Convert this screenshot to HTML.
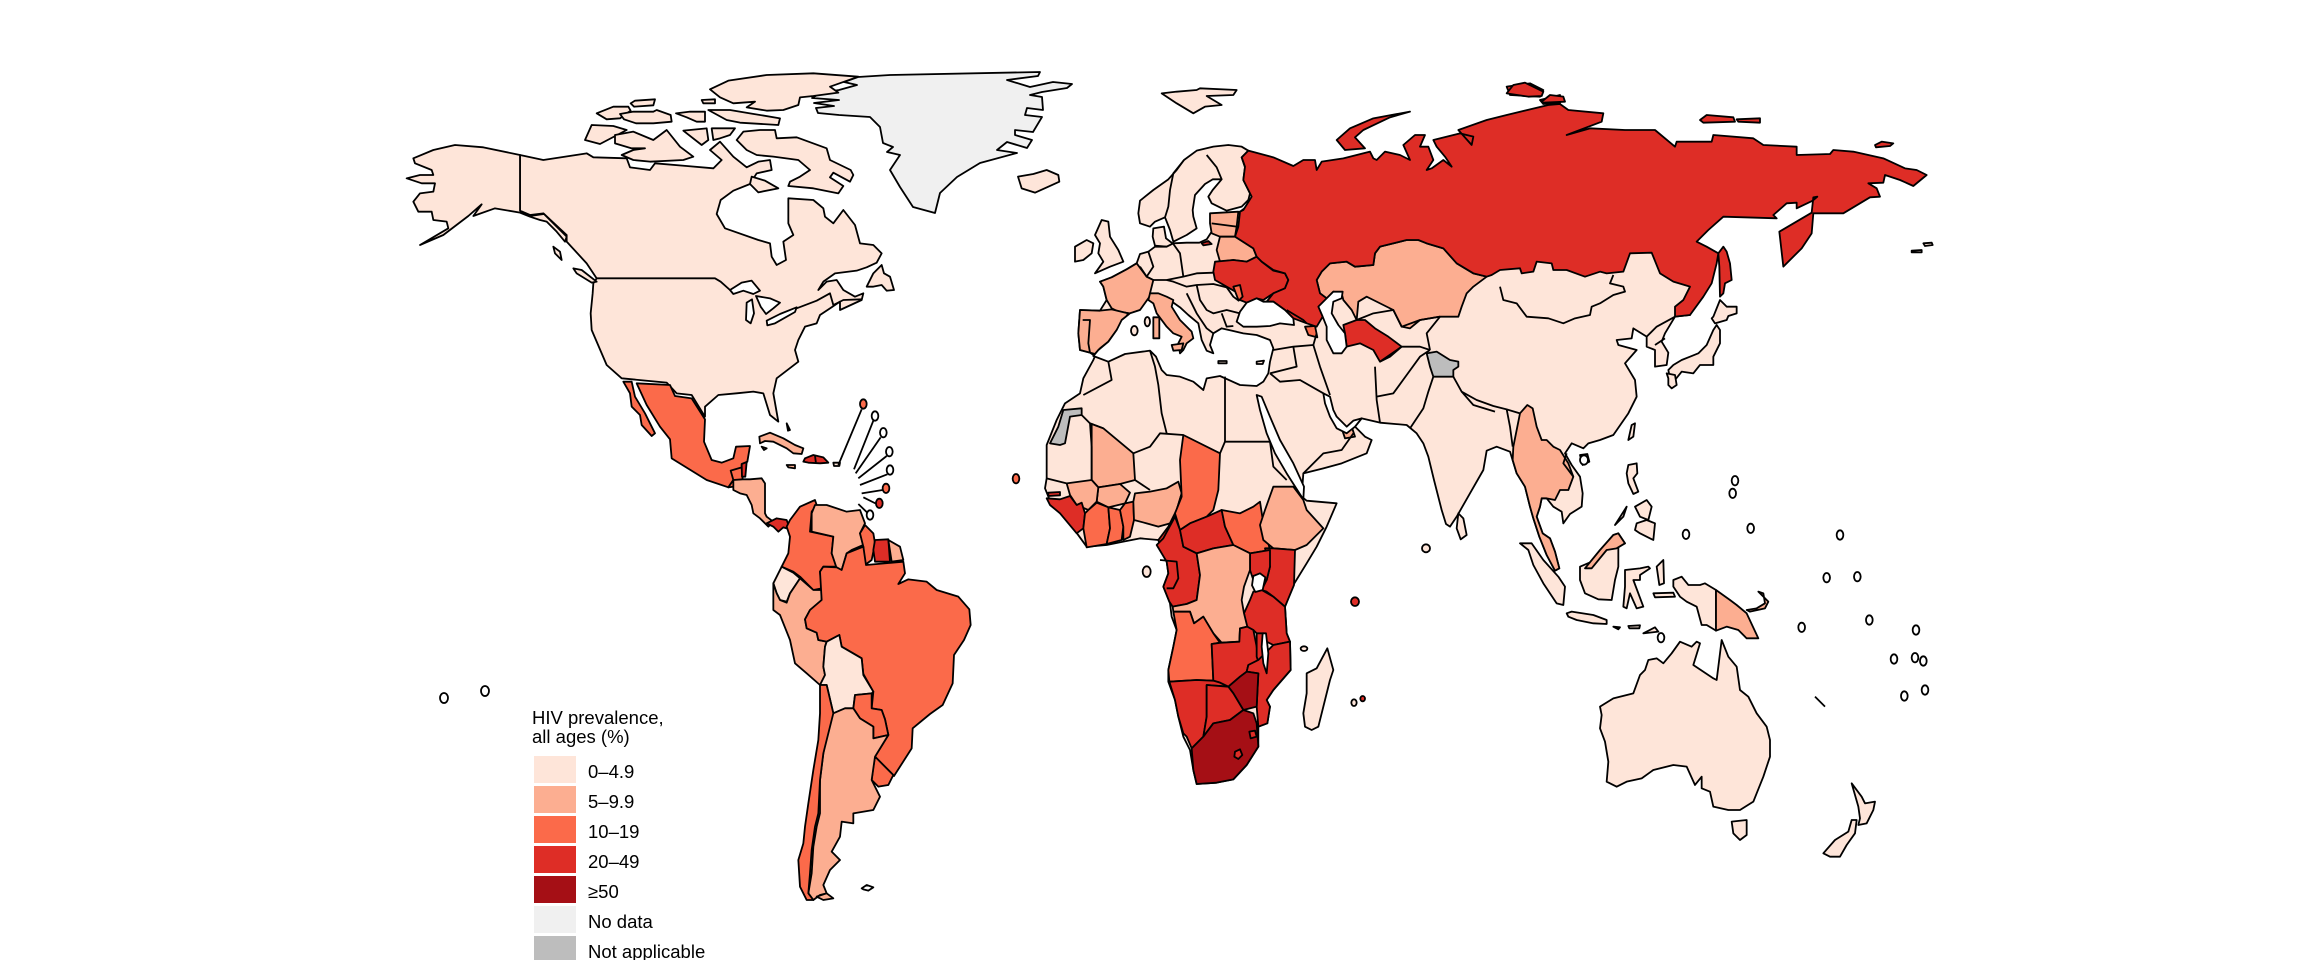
<!DOCTYPE html>
<html><head><meta charset="utf-8"><style>
html,body{margin:0;padding:0;background:#fff;}
svg{display:block}
polygon,polyline,ellipse{vector-effect:non-scaling-stroke;}
.a{fill:#fee5d9}.b{fill:#fcae91}.c{fill:#fb6a4a}.d{fill:#de2d26}.e{fill:#a50f15}.n{fill:#f0f0f0}.g{fill:#bdbdbd}.w{fill:#fff}
polyline{fill:none}
text{font-family:"Liberation Sans",Arial,sans-serif;fill:#000}
</style></head><body>
<svg width="2304" height="960" viewBox="0 0 2304 960" xmlns="http://www.w3.org/2000/svg">
<rect width="2304" height="960" fill="#fff"/>
<g stroke="#000" stroke-width="1.8" stroke-linejoin="round">

<!-- Greenland -->
<polygon class="n" points="890,75 1040,72 1038,76 1007,80 1030,87 1053,82 1072,84 1067,88 1042,92 1030,95 1042,97 1043,110 1027,108 1025,115 1042,117 1033,132 1015,130 1015,135 1032,140 1027,148 1007,142 997,150 1017,153 980,163 957,177 940,193 935,213 913,207 900,187 890,170 900,155 887,152 893,147 883,143 880,127 870,117 839,115 818,113 816,108 834,106 814,103 839,100 812,98 821,93 839,90 857,85 844,82 858,77"/>

<!-- North America -->
<g transform="translate(400,60) scale(0.333333)">
<polygon class="a" points="360,285 430,300 560,280 580,292 680,295 690,322 750,330 765,310 860,318 940,325 965,300 930,270 960,245 1000,290 1040,322 1075,305 1110,300 1115,330 1070,340 1050,372 1000,392 962,420 950,462 975,505 1075,540 1110,550 1115,590 1130,615 1158,600 1150,545 1180,525 1165,490 1165,415 1240,420 1270,445 1275,470 1300,490 1330,450 1365,495 1380,550 1420,555 1445,580 1430,608 1400,622 1370,632 1305,640 1270,665 1255,690 1280,665 1310,660 1330,690 1365,710 1390,700 1385,720 1320,750 1320,725 1290,745 1260,765 1250,790 1215,800 1195,840 1185,870 1195,905 1130,955 1120,1000 1135,1085 1110,1065 1090,1000 1060,995 1010,1000 955,1005 915,1040 915,1070 875,1005 830,1000 800,968 665,955 620,915 575,810 572,760 578,700 580,670 590,655 560,610 500,545 500,525 430,460 390,465 360,452"/>
<polygon class="a" points="40,295 100,270 165,255 250,262 360,285 360,452 390,468 432,462 500,530 495,545 470,515 440,485 420,480 390,470 360,458 285,445 220,468 245,433 205,468 130,525 60,555 145,505 140,485 100,480 95,455 55,455 40,425 60,400 100,395 105,370 65,370 20,355 60,345 100,345 95,330 45,310"/>
<polygon class="a" points="1400,680 1420,640 1445,615 1452,640 1470,650 1482,690 1460,692 1445,675 1420,680"/>
<polygon class="a" points="520,625 545,630 590,665 575,668 530,640"/>
<polygon class="a" points="460,560 480,575 485,600 465,580"/>
<polygon class="w" points="990,690 1025,668 1055,662 1080,692 1060,702 1030,692 1000,702"/>
<polygon class="w" points="1040,728 1056,718 1062,760 1052,790 1038,780"/>
<polygon class="w" points="1068,708 1110,715 1140,728 1120,745 1098,762 1082,740"/>
<polygon class="w" points="1100,782 1140,762 1190,742 1185,756 1125,790 1102,796"/>
<polyline points="590,655 945,655 962,665 990,690"/>
<polyline points="1190,745 1250,722 1290,700 1300,735 1330,720 1385,718"/>
<polygon class="a" points="590,160 640,140 685,140 692,152 660,175 620,178"/>
<polygon class="a" points="692,130 705,122 765,118 760,136 702,140"/>
<polygon class="a" points="660,162 700,155 760,155 770,150 812,165 815,185 760,190 708,190 672,178"/>
<polygon class="a" points="828,160 870,155 915,155 915,185 890,185 860,172"/>
<polygon class="a" points="555,240 575,195 640,198 680,210 600,252"/>
<polygon class="a" points="645,225 700,215 760,240 800,210 840,260 880,290 850,300 750,305 700,300 665,285 700,270 735,265 695,265 645,250"/>
<polygon class="a" points="850,212 920,205 925,240 905,255"/>
<polygon class="a" points="935,205 1005,205 990,225 960,235 940,240"/>
<polygon class="a" points="1010,240 1030,215 1080,210 1125,210 1130,235 1190,232 1280,265 1290,300 1352,330 1360,345 1350,365 1300,338 1290,352 1330,378 1315,400 1240,385 1165,378 1170,365 1200,350 1230,330 1195,300 1120,290 1070,285 1040,270"/>
<polygon class="a" points="1055,350 1095,362 1135,385 1075,397 1050,372"/>
<polygon class="a" points="930,88 985,62 1100,45 1240,40 1375,50 1290,80 1315,98 1240,108 1200,112 1195,135 1150,150 1100,152 1040,142 1065,125 1000,130 960,112"/>
<polygon class="a" points="925,150 990,150 1050,160 1140,175 1135,195 1020,188 980,180"/>
<polygon class="a" points="905,120 945,118 945,130 910,130"/>
</g>

<ellipse class="w" cx="444" cy="698" rx="4" ry="5"/>
<ellipse class="w" cx="485" cy="691" rx="4" ry="5"/>

<!-- Central & South America -->
<g transform="translate(560,380) scale(0.333333)">
<polygon class="c" points="230,10 330,15 345,48 395,55 435,118 432,185 455,240 485,248 520,235 528,200 570,198 562,245 545,255 550,290 520,300 505,322 440,300 335,235 330,178 300,140 260,75"/>
<polygon class="c" points="190,5 215,5 225,50 255,100 285,160 275,168 245,135 240,105 215,80 210,40"/>
<polygon class="c" points="505,322 520,300 512,272 545,262 548,300 535,318"/>
<polygon class="d" points="545,252 560,246 556,290 546,290"/>
<polygon class="b" points="520,300 548,298 570,298 605,295 615,310 615,400 620,410 640,425 625,440 600,415 580,400 575,375 560,345 540,340 520,330"/>
<polygon class="d" points="620,430 650,415 680,420 690,448 670,442 655,455 640,440"/>
<polygon class="b" points="598,170 630,158 670,175 705,195 730,205 725,222 700,220 680,205 640,185 615,183 600,190"/>
<polygon class="d" points="735,235 760,225 790,232 805,248 780,250 745,248 730,245"/>
<polyline points="765,228 768,250"/>
<polygon class="b" points="680,255 705,255 705,265 685,262"/>
<polygon class="a" points="820,248 840,248 838,258 822,258"/>
<polygon class="a" points="605,200 620,205 612,210"/>
<polygon class="a" points="680,130 690,150 684,152"/>
<polyline points="835,255 905,88"/><polyline points="882,268 940,122"/><polyline points="887,280 962,172"/><polyline points="895,295 980,228"/><polyline points="900,315 982,283"/><polyline points="905,340 968,330"/><polyline points="910,352 950,372"/><polyline points="895,372 922,398"/>
<ellipse class="c" cx="910" cy="72" rx="10" ry="14"/>
<ellipse class="w" cx="945" cy="108" rx="10" ry="14"/>
<ellipse class="w" cx="970" cy="158" rx="10" ry="14"/>
<ellipse class="w" cx="988" cy="215" rx="10" ry="14"/>
<ellipse class="w" cx="990" cy="270" rx="10" ry="14"/>
<ellipse class="c" cx="978" cy="325" rx="10" ry="14"/>
<ellipse class="d" cx="958" cy="370" rx="10" ry="14"/>
<ellipse class="w" cx="930" cy="405" rx="10" ry="14"/>
<ellipse class="c" cx="1368" cy="296" rx="10" ry="14"/>
<polygon class="c" points="885,395 900,392 902,402 888,404"/>
<polygon class="c" points="680,440 690,420 720,380 765,360 770,375 755,395 750,455 820,470 815,520 830,560 790,560 780,575 785,625 760,630 720,590 700,575 665,560 685,520 690,470"/>
<polygon class="b" points="765,375 800,375 860,395 900,390 915,430 900,460 910,495 875,510 860,520 845,570 830,565 815,520 820,470 755,455 755,400"/>
<polygon class="c" points="900,460 915,435 940,460 945,490 935,540 915,555 910,500"/>
<polygon class="d" points="945,480 985,478 990,545 945,545 940,510"/>
<polygon class="b" points="985,480 1020,500 1030,540 995,545"/>
<polygon class="a" points="665,560 700,578 720,595 690,640 680,665 660,660 650,640 640,610"/>
<polygon class="b" points="640,610 650,640 660,660 680,668 690,640 720,595 760,630 785,630 785,660 750,690 735,718 740,745 770,758 775,780 800,785 795,800 790,860 795,885 780,915 740,880 705,850 690,780 660,705 640,690"/>
<polygon class="c" points="750,690 785,660 780,575 790,560 830,562 845,570 860,520 910,500 918,555 1030,545 1035,580 1015,612 1045,598 1100,605 1130,630 1195,650 1228,688 1232,735 1212,780 1182,825 1178,910 1148,975 1110,1002 1058,1045 1055,1105 1020,1160 1002,1188 945,1130 985,1065 975,1018 965,990 935,985 940,935 910,882 905,835 845,800 838,765 800,785 775,780 770,758 740,745 735,718"/>
<polygon class="c" points="945,1130 1000,1185 985,1215 955,1220 935,1200 940,1160"/>
<polygon class="a" points="800,785 838,765 845,800 905,835 910,885 940,935 935,940 885,945 880,985 855,985 820,1000 800,915 780,915 795,885 790,860 795,800"/>
<polygon class="c" points="880,985 885,945 935,940 935,985 965,990 975,1018 985,1065 940,1075 940,1040 900,1015"/>
<polygon class="b" points="820,1000 855,985 880,985 900,1015 940,1040 940,1075 985,1065 945,1130 935,1200 960,1250 940,1290 880,1300 880,1330 845,1325 840,1370 815,1415 840,1440 810,1470 790,1515 800,1540 780,1545 760,1560 745,1540 755,1480 760,1400 770,1340 780,1300 780,1200 790,1120 800,1070 810,1010"/>
<polygon class="c" points="780,915 800,915 820,1000 805,1060 790,1120 780,1200 775,1300 765,1340 755,1410 750,1480 745,1540 760,1560 740,1560 720,1520 715,1440 730,1390 735,1340 745,1270 760,1170 775,1080 780,1000"/>
<polygon class="b" points="770,1550 800,1540 820,1555 790,1560"/>
<polygon class="w" points="905,1525 920,1515 940,1522 925,1532 910,1528"/>
</g>

<!-- Eastern hemisphere -->
<g transform="translate(1040,80) scale(0.333333)">
<polygon class="a" points="300,362 340,330 385,298 410,270 432,240 470,212 520,200 565,195 605,200 625,212 605,232 615,262 610,300 635,350 605,380 560,392 515,370 505,350 518,330 545,298 518,298 495,312 465,345 458,390 460,410 470,445 440,465 400,485 390,450 375,412 345,425 330,440 300,430 295,400"/>
<polyline points="432,240 400,280 390,330 385,380 375,412"/>
<polyline points="500,225 530,262 545,298"/>
<polygon class="a" points="340,445 372,440 378,475 400,492 380,500 345,497 338,470"/>
<polygon class="a" points="165,465 185,420 205,425 210,470 235,510 250,545 210,560 165,580 190,545 175,520 180,490"/>
<polygon class="a" points="105,500 140,480 160,490 155,520 130,540 105,545"/>
<polygon class="a" points="-66,290 -20,282 20,270 55,285 58,305 25,320 -15,338 -55,325"/>
<polygon class="a" points="365,40 410,35 470,30 480,25 590,30 580,45 500,48 545,75 495,80 460,100 410,70"/>

<polygon class="a" points="180,605 215,592 260,568 290,550 300,522 325,515 345,500 380,500 400,490 440,488 478,488 500,478 515,455 512,430 540,408 600,395 620,380 640,300 1950,300 1950,705 1905,710 1875,760 1865,785 1885,818 1880,855 1845,860 1845,810 1820,800 1820,770 1780,745 1775,775 1730,780 1735,795 1790,810 1755,850 1785,900 1790,950 1765,1000 1720,1065 1680,1080 1645,1090 1630,1105 1595,1090 1575,1120 1595,1155 1620,1190 1628,1240 1625,1280 1590,1302 1570,1330 1565,1295 1540,1280 1520,1255 1505,1255 1500,1280 1490,1310 1508,1360 1530,1375 1545,1415 1558,1465 1545,1472 1520,1425 1498,1370 1480,1315 1470,1280 1455,1220 1430,1180 1410,1115 1370,1100 1340,1112 1330,1170 1290,1240 1250,1310 1230,1340 1218,1332 1205,1290 1182,1200 1165,1130 1150,1090 1130,1060 1100,1035 1020,1028 965,1015 945,1040 975,1070 995,1080 980,1120 905,1150 850,1165 790,1180 785,1250 800,1262 890,1270 860,1340 830,1400 800,1450 760,1515 735,1580 740,1660 750,1685 752,1770 700,1830 680,1860 690,1880 682,1930 655,1940 655,2000 620,2055 580,2098 530,2108 470,2112 460,2070 450,2010 430,1970 415,1910 405,1860 385,1805 385,1770 400,1700 410,1650 395,1610 390,1570 370,1520 385,1480 380,1445 355,1380 300,1375 250,1385 200,1395 140,1400 100,1345 60,1295 30,1262 15,1225 20,1195 20,1095 50,1020 75,970 120,940 130,895 160,840 165,828 150,818 120,810 115,760 120,690 180,692 200,660 190,620"/>

<polygon class="b" points="180,605 215,592 260,568 290,550 320,590 340,600 330,640 335,660 300,690 270,700 235,695 215,685 200,660 190,620"/>
<polygon class="b" points="120,690 180,692 215,688 265,700 245,730 230,750 205,785 180,805 165,822 150,818 120,810 115,760"/>
<polyline points="128,720 150,720 145,790 150,818"/>
<polygon class="b" points="510,400 595,395 590,440 585,470 540,470 515,460 510,430"/>
<polyline points="515,430 590,440"/>
<polygon class="d" points="485,490 505,483 515,492 490,496"/>
<polygon class="b" points="540,470 585,470 640,505 650,530 620,545 580,540 540,545 530,510"/>
<polygon class="d" points="525,545 580,540 620,545 650,530 665,545 700,572 735,580 745,600 735,625 700,640 670,660 650,655 620,668 600,660 595,640 560,620 525,600 520,575"/>
<polygon class="c" points="580,620 600,615 608,650 596,662"/>
<polygon class="c" points="795,740 825,738 832,772 805,765"/>
<polygon class="b" points="830,600 845,575 870,550 920,545 945,560 1000,555 1005,520 1020,500 1100,480 1135,480 1160,490 1210,505 1250,550 1300,580 1340,590 1300,620 1280,640 1265,680 1255,710 1200,710 1140,720 1110,745 1085,740 1060,690 1000,660 980,650 955,665 950,720 935,690 910,660 905,640 880,635 860,655 840,640"/>
<polygon class="d" points="910,735 950,720 975,720 1005,745 1045,770 1085,800 1050,830 1020,845 1000,810 960,790 920,800 915,760"/>
<polygon class="g" points="1160,820 1190,815 1230,840 1255,845 1255,860 1240,870 1240,890 1180,890 1170,860 1165,840"/>
<polygon class="b" points="905,1045 935,1040 945,1070 915,1075"/>
<polygon class="b" points="1440,1000 1462,975 1478,985 1490,1040 1505,1080 1520,1080 1540,1100 1560,1110 1585,1150 1600,1190 1585,1230 1560,1230 1545,1260 1520,1255 1505,1255 1500,1280 1490,1310 1508,1360 1530,1375 1545,1415 1558,1465 1545,1472 1520,1425 1498,1370 1480,1315 1470,1280 1455,1220 1430,1180 1418,1140 1420,1100"/>
<polygon class="g" points="30,1090 55,1040 70,990 125,985 125,1005 90,1010 75,1090 60,1095"/>
<polygon class="b" points="150,1030 190,1045 280,1120 285,1200 240,1212 175,1222 155,1200 155,1100"/>
<polygon class="b" points="175,1222 240,1212 270,1238 255,1270 205,1282 170,1265"/>
<polygon class="b" points="80,1210 155,1200 175,1222 170,1265 145,1290 110,1275 90,1245"/>
<polygon class="d" points="20,1255 60,1258 90,1248 110,1275 125,1268 135,1300 130,1345 110,1360 85,1330 60,1300 30,1275"/>
<polygon class="d" points="25,1238 60,1236 60,1246 25,1248"/>
<polygon class="c" points="135,1300 145,1290 170,1268 205,1282 210,1345 200,1392 140,1402 130,1345"/>
<polygon class="c" points="205,1282 240,1290 250,1340 245,1380 200,1392 210,1345"/>
<polygon class="c" points="240,1290 255,1270 280,1265 282,1320 270,1370 250,1380 250,1340"/>
<polygon class="b" points="285,1240 330,1235 380,1225 415,1205 425,1240 410,1290 390,1330 355,1340 320,1330 282,1320 280,1265"/>
<polygon class="d" points="355,1380 385,1340 410,1290 425,1240 420,1320 440,1370 440,1400 430,1440 400,1440 380,1445"/>
<polygon class="c" points="430,1065 540,1120 535,1230 520,1290 500,1310 450,1330 420,1350 405,1300 425,1250 420,1140"/>

<g transform="translate(0,1140)">
<polygon class="d" points="350,255 370,235 405,170 420,210 430,260 470,280 480,345 470,420 440,432 398,440 388,425 370,380 385,340 380,305"/>
<polyline points="360,300 410,305 415,355 400,385 380,385"/>
<polygon class="d" points="420,210 450,190 500,170 545,150 555,200 580,255 520,265 470,280 430,260"/>
<polygon class="c" points="545,150 600,160 640,140 660,125 670,190 690,270 630,280 580,255 555,200"/>
<polygon class="b" points="700,80 760,80 790,120 800,150 850,205 800,255 765,270 700,265 670,240 660,195 675,150"/>
<polygon class="d" points="675,265 700,265 765,270 762,375 735,440 700,410 680,395 665,390 680,360 690,320"/>
<polygon class="d" points="630,280 690,270 690,320 680,360 640,360 630,330"/>
<polygon class="d" points="640,395 665,390 700,410 735,440 740,520 750,545 700,555 670,540 640,510 620,500 612,460 630,420"/>
<polygon class="b" points="440,432 470,420 480,345 470,280 520,265 580,255 630,280 630,330 612,380 605,420 612,460 622,500 600,505 598,545 545,548 520,520 490,470 462,490 450,455 400,455 398,440"/>
<polygon class="c" points="400,455 450,455 462,490 490,470 520,520 540,548 515,552 520,662 470,660 388,665 385,630 400,560 410,510"/>
<polygon class="d" points="515,552 545,548 598,545 600,505 622,500 640,510 650,560 655,600 625,615 620,635 600,650 565,680 540,668 520,662"/>
<polygon class="d" points="650,520 670,520 685,580 690,640 675,655 660,620 650,590"/>
<polygon class="d" points="655,600 700,555 750,545 752,630 700,690 680,720 690,740 682,790 655,800 650,740 655,640 620,635 625,615"/>
<polygon class="e" points="565,680 600,650 620,635 655,640 650,740 610,750 580,700"/>
<polygon class="d" points="388,665 470,660 520,662 540,668 565,680 500,675 500,770 490,830 455,865 440,830 430,820 415,770 405,720"/>
<polygon class="d" points="500,675 565,680 580,700 610,750 570,780 520,790 490,830 500,770"/>
<polygon class="e" points="455,865 490,830 520,790 570,780 610,750 640,760 650,790 655,860 620,915 580,958 530,968 470,972 460,930"/>
<polygon class="d" points="585,875 600,868 607,885 595,897 583,890"/>
<polygon class="d" points="628,815 645,812 650,830 632,835"/>
<polygon class="w" points="640,348 660,340 676,352 668,390 646,396 636,376"/>
<polygon class="w" points="668,520 678,520 685,580 680,640 670,610 665,560"/>
<polygon class="a" points="800,640 830,625 862,565 880,630 870,660 855,720 835,800 815,810 795,800 790,760 800,700"/>
<ellipse class="a" cx="320" cy="335" rx="12" ry="16"/>
<ellipse class="d" cx="945" cy="425" rx="12" ry="13"/>
<ellipse class="a" cx="792" cy="566" rx="10" ry="7"/>
<ellipse class="a" cx="942" cy="728" rx="8" ry="10"/>
<ellipse class="d" cx="968" cy="716" rx="7" ry="8"/>
<ellipse class="a" cx="1158" cy="265" rx="12" ry="12"/>
</g>

<polygon class="d" points="625,212 700,232 760,258 790,240 825,240 830,270 845,245 910,235 990,215 1000,235 1010,240 1035,215 1080,225 1110,240 1090,195 1125,165 1155,165 1140,200 1165,200 1180,240 1160,270 1175,265 1210,240 1235,260 1215,230 1190,200 1180,180 1260,160 1300,170 1295,195 1255,150 1340,120 1400,105 1525,75 1560,72 1585,90 1690,100 1685,125 1580,165 1650,145 1755,150 1845,150 1905,200 1910,185 2015,185 2020,165 2140,175 2170,195 2270,200 2270,225 2370,222 2380,210 2440,215 2530,235 2595,265 2630,270 2660,285 2620,318 2580,300 2535,285 2530,308 2485,310 2510,325 2520,350 2490,352 2410,400 2320,400 2315,460 2285,505 2230,560 2218,455 2315,398 2320,352 2332,350 2318,362 2270,385 2270,368 2240,370 2200,405 2210,415 2050,410 2005,450 1970,485 2000,500 2035,520 2030,550 2015,610 1990,650 1950,705 1905,710 1905,680 1930,660 1950,620 1900,605 1860,580 1835,518 1770,520 1750,575 1700,580 1680,575 1635,590 1580,570 1540,570 1535,550 1490,545 1480,575 1445,580 1440,565 1380,570 1355,585 1340,590 1300,580 1250,550 1210,505 1160,490 1135,480 1100,480 1020,500 1005,520 1000,555 945,560 920,545 870,550 845,575 830,600 840,640 860,655 848,710 830,740 800,730 760,715 735,690 700,665 680,665 700,640 735,625 745,600 735,580 700,570 665,545 650,530 640,505 585,470 595,440 600,395 610,390 635,350 610,300 615,260 605,232"/>
<polygon class="d" points="890,180 930,145 1000,115 1110,95 1050,112 970,150 945,172 975,205 915,210"/>
<polygon class="d" points="1400,20 1470,10 1510,30 1500,50 1410,45"/>
<polygon class="d" points="1500,60 1560,45 1560,70 1510,72"/>

<polygon class="w" points="160,828 205,845 255,822 330,812 348,830 365,870 380,885 420,890 460,905 490,930 500,895 540,888 600,915 650,918 670,905 685,880 690,845 700,805 690,780 650,765 610,760 575,752 545,745 520,760 510,795 520,820 500,812 485,780 475,730 445,705 420,682 400,668 360,648 330,648 300,690 270,700 245,720 230,750 205,785 175,810"/>
<polygon class="w" points="600,695 620,668 650,655 670,665 700,665 735,690 760,715 762,735 720,730 690,738 650,740 610,740 590,725"/>
<polygon class="w" points="835,680 865,650 880,635 908,635 905,655 880,665 875,700 895,735 915,760 920,800 905,820 880,820 860,780 860,740 848,710"/>
<polygon class="w" points="650,945 665,950 690,1010 720,1080 760,1150 792,1220 790,1258 775,1235 740,1180 705,1120 680,1060 660,990"/>
<polygon class="w" points="850,940 870,950 880,990 890,1010 920,1040 940,1022 965,1015 945,1040 920,1060 890,1045 870,1010 855,970"/>

<polygon class="b" points="330,640 355,640 380,650 400,660 395,680 420,720 455,755 460,775 440,790 430,810 420,820 415,790 425,770 400,760 380,740 350,700 340,670 325,660"/>
<polygon class="b" points="395,795 430,790 425,810 400,812"/>
<polygon class="b" points="340,712 358,712 358,775 340,775"/>
<ellipse class="a" cx="322" cy="725" rx="8" ry="14"/>
<ellipse class="a" cx="283" cy="752" rx="10" ry="14"/>
<polygon class="a" points="535,843 560,843 560,850 535,850"/>
<polygon class="a" points="650,845 672,842 668,852 650,852"/>
<polygon class="a" points="1255,1300 1270,1315 1280,1365 1262,1378 1250,1345"/>

<polyline points="325,515 340,560 320,590"/>
<polyline points="300,560 320,590 340,600"/>
<polyline points="400,492 420,520 430,590"/>
<polyline points="340,600 380,600 430,590 470,580 520,578"/>
<polyline points="380,600 400,605 440,620 470,615 520,612 560,622"/>
<polyline points="470,615 480,660 500,690 520,700 560,690 600,700"/>
<polyline points="440,640 470,700 500,745 520,760"/>
<polyline points="560,622 580,650 596,662"/>
<polyline points="545,700 560,740 580,738"/>
<polyline points="740,690 790,720 800,730"/>
<polyline points="830,760 820,795"/>
<polyline points="700,810 760,800 820,795"/>
<polyline points="760,800 770,860 690,880"/>
<polyline points="690,880 720,905 780,900 850,940"/>
<polyline points="820,795 840,860 870,945"/>
<polyline points="790,1180 850,1120 905,1110 940,1060"/>
<polyline points="690,1085 700,1160 740,1200"/>
<polyline points="950,720 1000,700 1060,690 1085,740 1140,720 1200,710"/>
<polyline points="1020,845 1085,800 1140,800 1170,810"/>
<polyline points="1200,710 1160,760 1170,810"/>
<polyline points="1005,860 1010,960 1020,1028"/>
<polyline points="1010,950 1060,940 1100,885 1140,830 1170,810"/>
<polyline points="1110,1045 1150,985 1165,935 1180,890"/>
<polyline points="1240,890 1265,935 1310,960 1360,978 1400,988 1440,1000"/>
<polyline points="1265,935 1300,975 1365,995"/>
<polyline points="1400,988 1410,1040 1418,1100"/>
<polyline points="1380,620 1390,660 1430,670 1460,710 1525,715 1570,730 1605,715 1650,705 1655,680 1680,670 1720,645 1755,635 1750,620 1710,610 1720,585"/>
<polyline points="1820,770 1850,740 1905,710"/>
<polyline points="1845,795 1875,775"/>
<polyline points="205,845 215,900 130,945"/>
<polyline points="125,1005 150,1030 190,1045"/>
<polyline points="280,1120 330,1100 360,1060 430,1065"/>
<polyline points="330,812 345,860 355,915 365,1000 380,1060"/>
<polyline points="555,890 555,1085 690,1085"/>
<polyline points="540,1120 555,1085"/>
<polyline points="155,1200 155,1030"/>
<polyline points="20,1195 80,1210"/>
<polyline points="285,1200 330,1230"/>
<polyline points="1580,1120 1570,1150 1600,1190"/>

<g transform="translate(1380,-60)">
<polygon class="d" points="20,100 40,75 75,68 130,95 125,108 85,110"/>
<polygon class="d" points="125,125 150,105 190,110 195,125 130,128"/>
<polygon class="d" points="600,180 620,165 700,172 705,185 610,188"/>
<polygon class="d" points="710,178 780,175 780,188 715,185"/>
<polygon class="d" points="1125,255 1145,245 1180,250 1170,258 1128,262"/>
<polygon class="d" points="655,580 670,560 680,575 690,610 695,660 675,670 670,700 660,710 658,620"/>
<polygon class="a" points="640,770 660,720 680,740 710,740 710,760 685,768 680,780 645,790 635,775"/>
<polygon class="a" points="650,795 660,810 660,850 640,890 640,915 600,915 580,940 545,935 525,960 510,955 505,930 520,915 545,900 570,890 595,880 620,855 640,810"/>
<polygon class="a" points="500,940 525,945 530,975 515,985 505,975 505,955"/>
<polygon class="a" points="395,1095 405,1090 400,1130 385,1140"/>
<polygon class="a" points="240,1185 262,1182 268,1205 248,1215"/>
<polygon class="a" points="1270,550 1295,548 1298,555 1275,558"/>
<polygon class="a" points="1235,572 1265,570 1265,577 1235,577"/>
</g>

<g transform="translate(1380,1080)">
<polygon class="a" points="60,310 95,310 130,360 175,410 195,440 190,495 170,490 130,430 100,375 85,330"/>
<polygon class="a" points="240,380 275,365 310,320 340,285 355,280 375,310 355,320 355,380 345,420 335,480 295,478 255,460 240,420"/>
<polygon class="b" points="255,385 300,330 340,285 355,280 375,310 350,325 320,330 275,385"/>
<polygon class="a" points="200,520 215,515 280,525 320,540 320,552 280,550 230,540 205,530"/>
<polygon class="a" points="375,390 420,385 445,380 450,385 420,405 420,420 400,420 430,500 410,505 390,460 380,505 370,500 375,440"/>
<polygon class="a" points="470,380 490,360 492,430 478,435"/>
<polygon class="a" points="385,75 410,70 412,100 400,115 415,155 400,162 385,130 380,100"/>
<polygon class="a" points="405,200 440,180 455,200 445,240 420,230"/>
<polygon class="a" points="410,250 440,240 465,250 460,300 440,290 420,280 405,270"/>
<polygon class="a" points="345,255 380,200 370,230"/>
<polygon class="a" points="460,460 520,458 525,470 465,472"/>
<polygon class="a" points="340,560 360,562 355,568"/>
<polygon class="a" points="385,558 420,556 418,565 388,565"/>
<polygon class="a" points="430,580 465,562 475,575"/>
<polygon class="a" points="520,420 545,410 565,435 600,435 615,430 648,450 648,572 620,555 605,555 590,500 560,485 540,470 520,440"/>
<polygon class="b" points="648,450 690,480 710,495 740,520 775,595 740,595 715,570 680,560 648,572"/>
<polygon class="b" points="740,510 770,505 795,490 790,460 775,455 805,485 795,505 750,515"/>
<polygon class="a" points="300,800 340,775 400,760 420,705 435,690 445,660 470,655 490,670 515,640 540,605 575,620 590,605 600,610 580,675 640,715 650,720 665,600 685,650 710,680 720,750 745,770 770,820 800,860 810,900 810,950 790,1010 770,1060 760,1085 720,1110 685,1110 640,1100 630,1055 605,1045 605,1010 585,1035 560,980 520,975 460,990 425,1015 380,1025 350,1040 320,1025 325,965 315,905 300,865 305,825"/>
<polygon class="a" points="695,1145 740,1140 740,1185 720,1200 700,1180"/>
<polygon class="a" points="1055,1030 1085,1070 1095,1090 1125,1085 1120,1110 1100,1150 1075,1155 1080,1135 1075,1100"/>
<polygon class="a" points="970,1240 1005,1200 1045,1175 1055,1140 1070,1140 1065,1180 1040,1215 1020,1250 990,1250"/>
<polyline points="945,770 975,800"/>
<ellipse class="w" cx="705" cy="122" rx="10" ry="14"/>
<ellipse class="w" cx="698" cy="160" rx="10" ry="14"/>
<ellipse class="w" cx="558" cy="283" rx="10" ry="14"/>
<ellipse class="w" cx="752" cy="265" rx="10" ry="14"/>
<ellipse class="w" cx="1020" cy="285" rx="10" ry="14"/>
<ellipse class="w" cx="980" cy="413" rx="10" ry="14"/>
<ellipse class="w" cx="1072" cy="410" rx="10" ry="14"/>
<ellipse class="w" cx="905" cy="562" rx="10" ry="14"/>
<ellipse class="w" cx="1108" cy="540" rx="10" ry="14"/>
<ellipse class="w" cx="1248" cy="570" rx="10" ry="14"/>
<ellipse class="w" cx="1182" cy="657" rx="10" ry="14"/>
<ellipse class="w" cx="1245" cy="653" rx="10" ry="14"/>
<ellipse class="w" cx="1270" cy="663" rx="10" ry="14"/>
<ellipse class="w" cx="1275" cy="750" rx="10" ry="14"/>
<ellipse class="w" cx="1213" cy="768" rx="10" ry="14"/>
<ellipse class="w" cx="483" cy="593" rx="10" ry="14"/>
<ellipse class="w" cx="252" cy="60" rx="12" ry="14"/>
</g>
</g>
</g>

<text x="532" y="724" font-size="18.5">HIV prevalence,</text>
<text x="532" y="743" font-size="18.5">all ages (%)</text>
<rect x="534" y="756" width="42" height="27" fill="#fee5d9"/>
<rect x="534" y="786" width="42" height="27" fill="#fcae91"/>
<rect x="534" y="816" width="42" height="27" fill="#fb6a4a"/>
<rect x="534" y="846" width="42" height="27" fill="#de2d26"/>
<rect x="534" y="876" width="42" height="27" fill="#a50f15"/>
<rect x="534" y="906" width="42" height="27" fill="#f0f0f0"/>
<rect x="534" y="936" width="42" height="27" fill="#bdbdbd"/>
<text x="588" y="778" font-size="18.5">0–4.9</text>
<text x="588" y="808" font-size="18.5">5–9.9</text>
<text x="588" y="838" font-size="18.5">10–19</text>
<text x="588" y="868" font-size="18.5">20–49</text>
<text x="588" y="898" font-size="18.5">≥50</text>
<text x="588" y="928" font-size="18.5">No data</text>
<text x="588" y="958" font-size="18.5">Not applicable</text>
</svg>
</body></html>
